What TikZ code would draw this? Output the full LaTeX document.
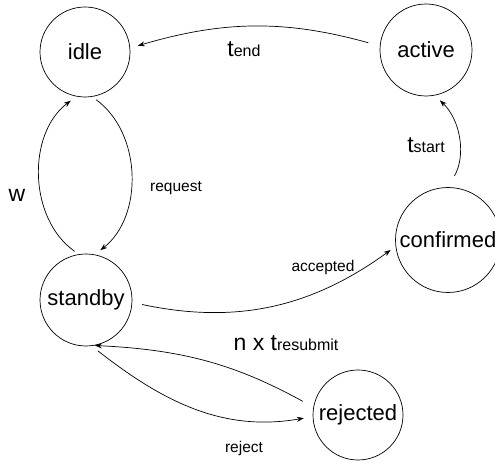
\documentclass[tikz,border=0pt]{standalone}
\usepackage{fontspec}
\setmainfont{Liberation Sans}
\usetikzlibrary{arrows.meta}

\newcommand{\subtxt}[1]{{\fontsize{16}{18}\selectfont #1}}

\begin{document}
\begin{tikzpicture}
	[x=1pt,y=1pt,line width=.7pt,
	%Styles
	state/.style={circle,draw,minimum size=#1,inner sep=0pt,font=\fontsize{22}{26}\selectfont},
	state/.default=90pt,
	trans/.style={-{Stealth[length=7pt,width=5pt]},shorten <=8pt,shorten >=7pt},
	big text/.style={font=\fontsize{23}{27}\selectfont,anchor=base,inner sep=0pt},
	small text/.style={font=\fontsize{15.5}{18}\selectfont,anchor=base,inner sep=0pt}
	]

	\useasboundingbox (0,0) rectangle (495,462);

	%States
	\node[state] (idle) at (85,410) {idle};
	\node[state=92pt] (active) at (426,412) {active};
	\node[state=105pt] (confirmed) at (448,222) {confirmed};
	\node[state=92pt] (standby) at (86,162) {standby};
	\node[state] (rejected) at (358,47) {rejected};

	%Transitions
	\draw[trans,shorten <=12pt,shorten >=8pt] (active.175) to[bend right=16] (idle.5);
	\draw[trans,shorten <=13pt] (confirmed.90) to[bend right=38] (active.-79);
	\draw[trans,shorten <=5pt] (standby.99) to[bend left=54] (idle.-101);
	\draw[trans,shorten <=5pt] (idle.-81) to[bend left=53] (standby.79);
	\draw[trans,shorten <=10pt,shorten >=6pt] (standby.-3) to[bend right=24] (confirmed.187);
	\draw[trans,shorten <=12pt,shorten >=0pt] (rejected.170) to[bend right=13] (standby.-79);
	\draw[trans,shorten >=9pt] (standby.-83) to[out=-38,in=190] (rejected.182);

	%Labels
	\node[big text] (tend) at (244,405) {t\subtxt{end}};
	\node[big text] (tstart) at (426,309) {t\subtxt{start}};
	\node[big text] (w) at (17,260) {w};
	\node[small text] (request) at (176,270) {request};
	\node[small text] (accepted) at (323,190) {accepted};
	\node[big text] (resubmit) at (286,111) {n x t\subtxt{resubmit}};
	\node[small text] (reject) at (244,9) {reject};
\end{tikzpicture}
\end{document}
